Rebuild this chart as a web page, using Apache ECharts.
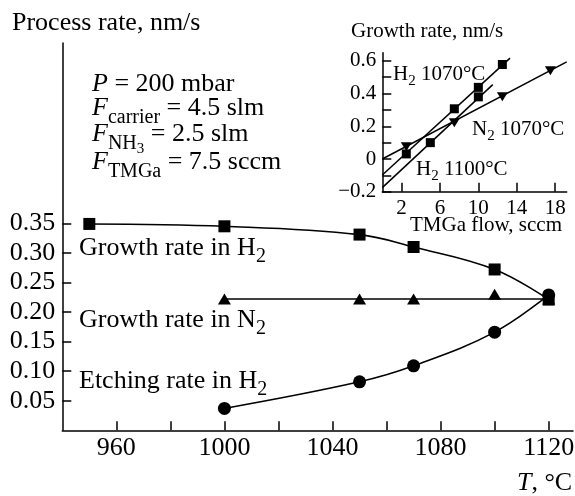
<!DOCTYPE html>
<html>
<head>
<meta charset="utf-8">
<script src="https://cdn.jsdelivr.net/npm/echarts@6/dist/echarts.min.js"></script>
<style>
  html, body { margin: 0; padding: 0; background: #fff; }
  #chart { width: 575px; height: 496px; }
</style>
</head>
<body>
<div id="chart"></div>
<script>
// ---- Process rate versus temperature (°C), nm/s ----
const tempGrowthH2 = [950, 1000, 1050, 1070, 1100, 1120];
const rateGrowthH2 = [0.349, 0.345, 0.331, 0.310, 0.272, 0.221];

const tempGrowthN2 = [1000, 1050, 1070, 1100, 1120];
const rateGrowthN2 = [0.222, 0.222, 0.222, 0.230, 0.222];
// constant level drawn through the N2 points
const levelTempsN2 = [1000, 1120];
const levelRateN2 = 0.222;

const tempEtchH2 = [1000, 1050, 1070, 1100, 1120];
const rateEtchH2 = [0.037, 0.082, 0.109, 0.166, 0.229];

const mainTempTicks = [960, 980, 1000, 1020, 1040, 1060, 1080, 1100, 1120];
const mainTempLabels = [960, 1000, 1040, 1080, 1120];
const mainRateTicks = [0.05, 0.10, 0.15, 0.20, 0.25, 0.30, 0.35];

// ---- Inset: growth rate versus TMGa flow (sccm) ----
const flowH2at1070 = [2.5, 7.5, 10, 12.5];
const rateH2at1070 = [0.031, 0.307, 0.438, 0.578];
const flowH2at1100 = [5, 10];
const rateH2at1100 = [0.100, 0.380];
const flowN2at1070 = [2.5, 7.5, 12.5, 17.5];
const rateN2at1070 = [0.075, 0.222, 0.380, 0.539];

// straight-line fits, [flow, rate] end points
const fitH2at1070 = [[0, -0.098], [13.3, 0.617]];
const fitH2at1100 = [[0, -0.175], [11.5, 0.455]];
const fitN2at1070 = [[0, 0.000], [19.2, 0.594]];

const insetFlowTicks = [2, 6, 10, 14, 18];
const insetRateTicks = [-0.2, -0.1, 0, 0.1, 0.2, 0.3, 0.4, 0.5, 0.6];
const insetRateLabels = [-0.2, 0, 0.2, 0.4, 0.6];

const FONT = '"Liberation Serif", "Times New Roman", serif';
const INK = '#000';

const zip = (xs, ys) => xs.map((x, i) => [x, ys[i]]);

// text runs with sub/superscripts laid out along a shared baseline
const measureCtx = document.createElement('canvas').getContext('2d');
function textRun(x, baseline, segs) {
  const out = [];
  let cx = x;
  segs.forEach(s => {
    const italic = s.italic ? 'italic ' : '';
    measureCtx.font = italic + s.size + 'px ' + FONT;
    const w = measureCtx.measureText(s.text).width;
    out.push({
      type: 'text',
      x: cx,
      y: baseline + (s.dy || 0) - 0.3375 * s.size,
      silent: true,
      style: {
        text: s.text,
        fill: INK,
        font: italic + s.size + 'px ' + FONT,
        align: 'left',
        verticalAlign: 'middle'
      }
    });
    cx += w;
  });
  return out;
}

const M = 26;   // main text size
const MS = 20;  // main subscript size
const I = 21;   // inset text size
const IS = 15;  // inset subscript size

const texts = [].concat(
  textRun(12, 32, [{ text: 'Process rate, nm/s', size: M }]),
  textRun(92, 93, [{ text: 'P', size: M, italic: true }, { text: ' = 200 mbar', size: M }]),
  textRun(92, 117, [
    { text: 'F', size: M, italic: true },
    { text: 'carrier', size: MS, dy: 7 },
    { text: ' = 4.5 slm', size: M }
  ]),
  textRun(92, 143, [
    { text: 'F', size: M, italic: true },
    { text: 'NH', size: MS, dy: 7 },
    { text: '3', size: 15, dy: 11 },
    { text: ' = 2.5 slm', size: M }
  ]),
  textRun(92, 171, [
    { text: 'F', size: M, italic: true },
    { text: 'TMGa', size: MS, dy: 7 },
    { text: ' = 7.5 sccm', size: M }
  ]),
  textRun(79, 257, [{ text: 'Growth rate in H', size: M }, { text: '2', size: MS, dy: 6 }]),
  textRun(79, 329, [{ text: 'Growth rate in N', size: M }, { text: '2', size: MS, dy: 6 }]),
  textRun(79, 390, [{ text: 'Etching rate in H', size: M }, { text: '2', size: MS, dy: 6 }]),
  textRun(517, 492, [{ text: 'T', size: M, italic: true }, { text: ', °C', size: M }]),
  // inset texts
  textRun(351, 39, [{ text: 'Growth rate, nm/s', size: I }]),
  textRun(410, 233, [{ text: 'TMGa flow, sccm', size: I }]),
  textRun(393, 82, [{ text: 'H', size: I }, { text: '2', size: IS, dy: 4 }, { text: ' 1070°C', size: I }]),
  textRun(472, 137, [{ text: 'N', size: I }, { text: '2', size: IS, dy: 4 }, { text: ' 1070°C', size: I }]),
  textRun(416, 177, [{ text: 'H', size: I }, { text: '2', size: IS, dy: 4 }, { text: ' 1100°C', size: I }])
);

const axisLine = { show: true, onZero: false, lineStyle: { color: INK, width: 1.5 } };
const tickStyle = { color: INK, width: 1.5 };
const solid = { color: INK, opacity: 1 };

const chart = echarts.init(document.getElementById('chart'), null, { renderer: 'canvas' });

chart.setOption({
  animation: false,
  backgroundColor: '#fff',
  grid: [
    { left: 62.3, right: 2, top: 43, bottom: 65.7, containLabel: false, outerBoundsMode: 'none' },
    { left: 382.3, right: 8.3, top: 52.7, bottom: 304.3, containLabel: false, outerBoundsMode: 'none' }
  ],
  xAxis: [
    {
      type: 'value', gridIndex: 0, min: 940, max: 1129,
      axisLine: axisLine,
      splitLine: { show: false },
      axisTick: { show: true, inside: true, length: 9, lineStyle: tickStyle, customValues: mainTempTicks },
      axisLabel: {
        show: true, margin: 5, color: INK, fontFamily: FONT, fontSize: M,
        customValues: mainTempLabels, formatter: v => String(v)
      }
    },
    {
      type: 'value', gridIndex: 1, min: 0, max: 19.2,
      axisLine: axisLine,
      splitLine: { show: false },
      axisTick: { show: true, inside: true, length: 9, lineStyle: tickStyle, customValues: insetFlowTicks },
      axisLabel: {
        show: true, margin: 6, color: INK, fontFamily: FONT, fontSize: I,
        customValues: insetFlowTicks, formatter: v => String(v)
      }
    }
  ],
  yAxis: [
    {
      type: 'value', gridIndex: 0, min: 0, max: 0.655,
      axisLine: axisLine,
      splitLine: { show: false },
      axisTick: { show: true, inside: true, length: 9, lineStyle: tickStyle, customValues: mainRateTicks },
      axisLabel: {
        show: true, margin: 7, color: INK, fontFamily: FONT, fontSize: M,
        customValues: mainRateTicks, formatter: v => v.toFixed(2)
      }
    },
    {
      type: 'value', gridIndex: 1, min: -0.2, max: 0.65,
      axisLine: axisLine,
      splitLine: { show: false },
      axisTick: { show: true, inside: true, length: 9, lineStyle: tickStyle, customValues: insetRateTicks },
      axisLabel: {
        show: true, margin: 6, color: INK, fontFamily: FONT, fontSize: I,
        customValues: insetRateLabels,
        formatter: v => (Math.abs(v) < 1e-9 ? '0' : (v < 0 ? '\u2212' + Math.abs(v).toFixed(1) : v.toFixed(1)))
      }
    }
  ],
  series: [
    {
      name: 'Growth rate in H2', type: 'line', xAxisIndex: 0, yAxisIndex: 0,
      data: zip(tempGrowthH2, rateGrowthH2), smooth: 0.4,
      symbol: 'rect', symbolSize: 12, showAllSymbol: true,
      lineStyle: { color: INK, width: 1.6 }, itemStyle: solid, z: 3
    },
    {
      name: 'Growth rate in N2 level', type: 'line', xAxisIndex: 0, yAxisIndex: 0,
      data: levelTempsN2.map(t => [t, levelRateN2]), symbol: 'none',
      lineStyle: { color: INK, width: 1.6 }, z: 2
    },
    {
      name: 'Growth rate in N2', type: 'scatter', xAxisIndex: 0, yAxisIndex: 0,
      data: zip(tempGrowthN2, rateGrowthN2), symbol: 'triangle', symbolSize: [13, 11],
      itemStyle: solid, z: 3
    },
    {
      name: 'Etching rate in H2', type: 'line', xAxisIndex: 0, yAxisIndex: 0,
      data: zip(tempEtchH2, rateEtchH2), smooth: 0.4,
      symbol: 'circle', symbolSize: 13, showAllSymbol: true,
      lineStyle: { color: INK, width: 1.6 }, itemStyle: solid, z: 4
    },
    // inset fits
    {
      type: 'line', xAxisIndex: 1, yAxisIndex: 1, data: fitH2at1070, symbol: 'none',
      lineStyle: { color: INK, width: 1.5 }, z: 2
    },
    {
      type: 'line', xAxisIndex: 1, yAxisIndex: 1, data: fitH2at1100, symbol: 'none',
      lineStyle: { color: INK, width: 1.5 }, z: 2
    },
    {
      type: 'line', xAxisIndex: 1, yAxisIndex: 1, data: fitN2at1070, symbol: 'none',
      lineStyle: { color: INK, width: 1.5 }, z: 2
    },
    // inset measured points
    {
      type: 'scatter', xAxisIndex: 1, yAxisIndex: 1, data: zip(flowH2at1070, rateH2at1070),
      symbol: 'rect', symbolSize: 9, itemStyle: solid, z: 3
    },
    {
      type: 'scatter', xAxisIndex: 1, yAxisIndex: 1, data: zip(flowH2at1100, rateH2at1100),
      symbol: 'rect', symbolSize: 9, itemStyle: solid, z: 3
    },
    {
      type: 'scatter', xAxisIndex: 1, yAxisIndex: 1, data: zip(flowN2at1070, rateN2at1070),
      symbol: 'triangle', symbolRotate: 180, symbolSize: [11, 9], itemStyle: solid, z: 3
    }
  ],
  graphic: { elements: texts }
});
</script>
</body>
</html>
